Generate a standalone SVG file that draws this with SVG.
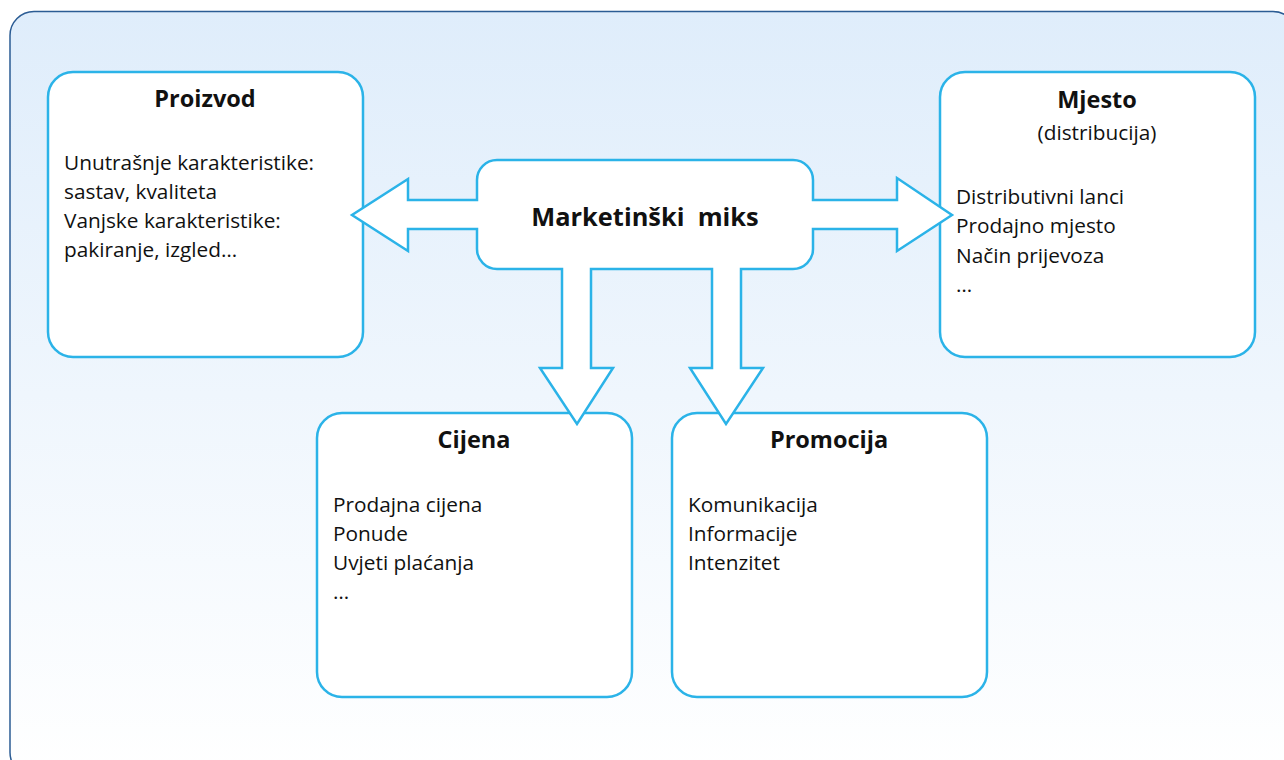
<svg xmlns="http://www.w3.org/2000/svg" width="1284" height="760" viewBox="0 0 1284 760">
  <defs>
    <linearGradient id="bg" x1="0" y1="0" x2="0" y2="1">
      <stop offset="0" stop-color="#dfedfb"/>
      <stop offset="1" stop-color="#ffffff"/>
    </linearGradient>
  </defs>
  <style>
    .box { fill: #ffffff; stroke: #2bb3e8; stroke-width: 2.5; }
    .title { font-family: "Open Sans", "Noto Sans", sans-serif; font-weight: bold; font-size: 23.5px; fill: #111; text-anchor: middle; }
    .body { font-family: "Open Sans", "Noto Sans", sans-serif; font-size: 20.8px; fill: #111; }
    .center { font-family: "Open Sans", "Noto Sans", sans-serif; font-weight: bold; font-size: 25.4px; fill: #111; text-anchor: middle; }
  </style>
  <rect x="0" y="0" width="1284" height="760" fill="#ffffff"/>
  <rect id="background" x="10" y="11.5" width="1287" height="765" rx="24" fill="url(#bg)" stroke="#2b5c94" stroke-width="1.5"/>

  <g id="proizvod">
    <rect class="box" x="48" y="72" width="315" height="285" rx="25"/>
    <text class="title" x="205" y="107">Proizvod</text>
    <text class="body" x="64" y="170">Unutrašnje karakteristike:</text>
    <text class="body" x="64" y="199">sastav, kvaliteta</text>
    <text class="body" x="64" y="228">Vanjske karakteristike:</text>
    <text class="body" x="64" y="257">pakiranje, izgled…</text>
  </g>

  <g id="mjesto">
    <rect class="box" x="940" y="72" width="315" height="285" rx="25"/>
    <text class="title" x="1097" y="108">Mjesto</text>
    <text class="body" x="1097" y="140" text-anchor="middle">(distribucija)</text>
    <text class="body" x="956" y="204">Distributivni lanci</text>
    <text class="body" x="956" y="233">Prodajno mjesto</text>
    <text class="body" x="956" y="263">Način prijevoza</text>
    <text class="body" x="956" y="292">…</text>
  </g>

  <g id="cijena">
    <rect class="box" x="317" y="413" width="315" height="284" rx="25"/>
    <text class="title" x="474" y="448">Cijena</text>
    <text class="body" x="333" y="512">Prodajna cijena</text>
    <text class="body" x="333" y="541">Ponude</text>
    <text class="body" x="333" y="570">Uvjeti plaćanja</text>
    <text class="body" x="333" y="599">…</text>
  </g>

  <g id="promocija">
    <rect class="box" x="672" y="413" width="315" height="284" rx="25"/>
    <text class="title" x="829" y="448">Promocija</text>
    <text class="body" x="688" y="512">Komunikacija</text>
    <text class="body" x="688" y="541">Informacije</text>
    <text class="body" x="688" y="570">Intenzitet</text>
  </g>

  <g id="connectors">
    <path class="box" d="M 497 160 H 793 A 20 20 0 0 1 813 180 V 200 H 897 V 178 L 952 215 L 897 251 V 229 H 813 V 249 A 20 20 0 0 1 793 269 H 741 V 368 H 763 L 726 424 L 690 368 H 712 V 269 H 591 V 368 H 613 L 577 424 L 540 368 H 562 V 269 H 497 A 20 20 0 0 1 477 249 V 229 H 408 V 251 L 352 215 L 408 179 V 200 H 477 V 180 A 20 20 0 0 1 497 160 Z"/>
  </g>

  <g id="marketinski-miks">
    <text class="center" x="645" y="226" xml:space="preserve">Marketinški  miks</text>
  </g>
</svg>
